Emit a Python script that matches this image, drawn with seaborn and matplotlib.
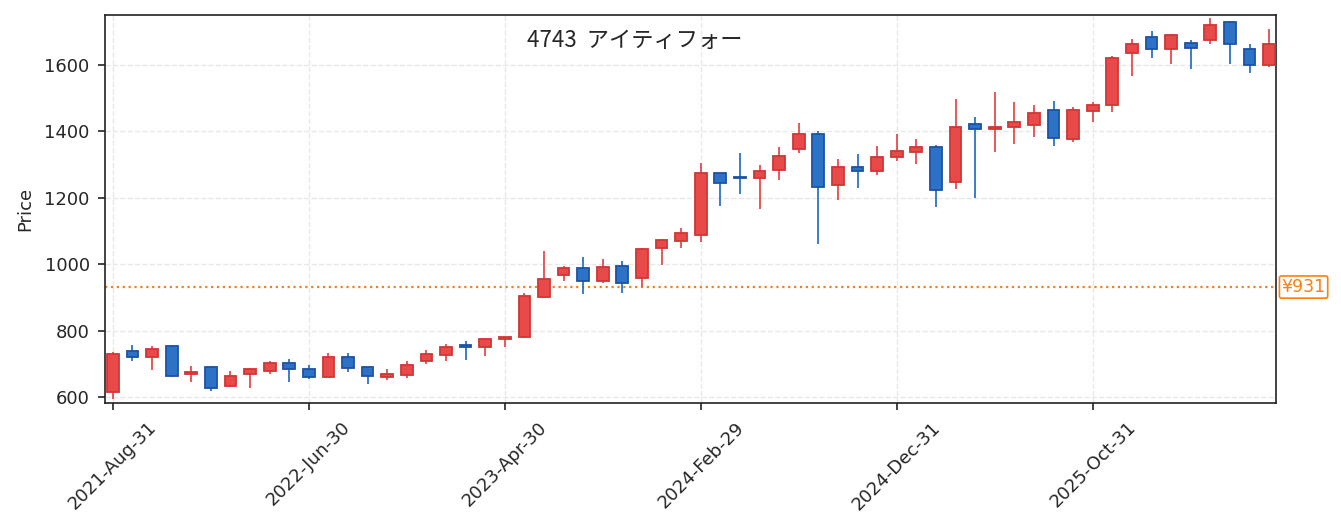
import seaborn as sns
import matplotlib.pyplot as plt
import pandas as pd

# monthly OHLC, Aug 2021 .. Jul 2026
opens = [614, 738, 720, 755, 669, 691, 632, 669, 677, 703,
         685, 660, 720, 689, 660, 665, 708, 726, 756, 751,
         776, 780, 900, 967, 988, 948, 994, 957, 1048, 1069,
         1087, 1273, 1262, 1259, 1284, 1346, 1391, 1237, 1291, 1281,
         1323, 1338, 1354, 1248, 1423, 1407, 1412, 1418, 1463, 1376,
         1461, 1479, 1636, 1685, 1648, 1667, 1675, 1730, 1649, 1600]
highs = [735, 756, 754, 757, 693, 692, 678, 687, 708, 714,
         695, 732, 732, 690, 683, 708, 742, 760, 769, 777,
         781, 912, 1040, 995, 1022, 1016, 1010, 1048, 1075, 1109,
         1305, 1275, 1335, 1299, 1353, 1425, 1401, 1317, 1332, 1356,
         1392, 1377, 1359, 1498, 1443, 1519, 1489, 1479, 1492, 1473,
         1489, 1627, 1678, 1701, 1692, 1674, 1742, 1732, 1663, 1708]
lows = [595, 709, 682, 660, 646, 619, 630, 628, 670, 646,
        655, 659, 674, 640, 652, 658, 698, 709, 711, 724,
        751, 779, 898, 950, 911, 944, 914, 932, 998, 1050,
        1068, 1175, 1211, 1166, 1254, 1336, 1062, 1194, 1230, 1267,
        1309, 1300, 1173, 1227, 1200, 1339, 1362, 1383, 1357, 1369,
        1429, 1459, 1565, 1622, 1601, 1586, 1664, 1601, 1574, 1592]
closes = [730, 720, 744, 662, 676, 626, 664, 685, 703, 683,
          660, 720, 687, 663, 668, 697, 729, 752, 750, 776,
          780, 903, 956, 988, 948, 991, 942, 1045, 1072, 1093,
          1274, 1244, 1258, 1280, 1327, 1391, 1232, 1291, 1281, 1324,
          1340, 1354, 1223, 1414, 1407, 1414, 1429, 1456, 1380, 1463,
          1480, 1622, 1664, 1648, 1691, 1651, 1721, 1663, 1600, 1662]
ref_price = 931
title = "4743  アイティフォー"

dates = pd.date_range("2021-08-31", periods=len(opens), freq="ME")
df = pd.DataFrame({"date": dates, "open": opens, "high": highs,
                   "low": lows, "close": closes})
df["x"] = range(len(df))
df["up"] = df["close"] >= df["open"]

sns.set_style("white")
plt.rcParams["font.family"] = ["DejaVu Sans", "Noto Sans CJK JP"]

fig = plt.figure(figsize=(13.41, 5.32), dpi=100)
ax = fig.add_axes([0.0783, 0.2425, 0.8732, 0.7293])

up_fill, up_edge = "#e84a4a", "#d13535"
dn_fill, dn_edge = "#2c72c6", "#1c52a6"

for up, fill, edge in [(True, up_fill, up_edge), (False, dn_fill, dn_edge)]:
    d = df[df["up"] == up]
    ax.vlines(d["x"], d["low"], d["high"], color=fill, linewidth=1.3, zorder=2)
    ax.bar(d["x"], (d["close"] - d["open"]).abs().clip(lower=2),
           bottom=d[["open", "close"]].min(axis=1), width=0.6,
           color=fill, edgecolor=edge, linewidth=1.3, zorder=3)

ax.axhline(ref_price, color="#ff7f0e", linestyle=":", linewidth=1.6, zorder=1)
ax.annotate(f"¥{ref_price}", xy=(1, ref_price), xycoords=("axes fraction", "data"),
            xytext=(4, 0), textcoords="offset points", va="center", ha="left",
            color="#ff7f0e", fontsize=12.5,
            bbox=dict(boxstyle="round,pad=0.12", fc="white", ec="#ff7f0e", lw=1.2))

ticks = df["x"][::10]
ax.set_xticks(ticks)
ax.set_xticklabels(df["date"][::10].dt.strftime("%Y-%b-%d"), rotation=45,
                   fontsize=13)
ax.set_yticks([600, 800, 1000, 1200, 1400, 1600])
ax.tick_params(axis="y", labelsize=13)
ax.tick_params(axis="both", direction="out", length=5, width=1.2, pad=6,
               color="#222222", bottom=True, left=True)
ax.set_xlim(-0.4, 59.35)
ax.set_ylim(582, 1750)
ax.set_ylabel("Price", fontsize=13, labelpad=7)
ax.grid(True, linestyle="--", color="#e8e8e8", linewidth=1)
for s in ax.spines.values():
    s.set_color("#222222")
    s.set_linewidth(1.2)
ax.text(0.452, 0.935, title, transform=ax.transAxes, ha="center", va="center",
        fontsize=16, family=["Noto Sans CJK JP", "DejaVu Sans"])

plt.savefig("out.png", dpi=100)
